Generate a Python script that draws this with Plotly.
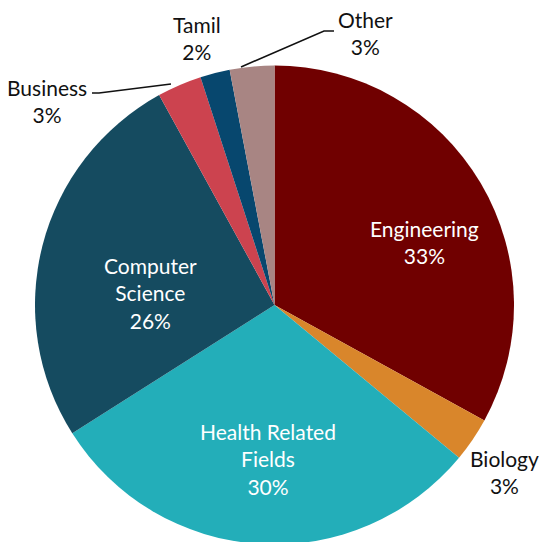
import plotly.graph_objects as go

W, H = 548, 542
OFF = 8  # page body margin offset compensation

categories = ["Engineering", "Biology", "Health Related Fields", "Computer Science",
              "Business", "Tamil", "Other"]
values = [33, 3, 30, 26, 3, 2, 3]
colors = ["#700000", "#D9862B", "#23AEB9", "#154B60", "#CC434F", "#07476E", "#A88583"]
label_lines = ["Engineering", "Biology", "Health Related<br>Fields", "Computer<br>Science",
               "Business", "Tamil", "Other"]


def X(px):
    return (px - OFF) / W


def Y(py):
    return 1 - (py - OFF) / H


fig = go.Figure(go.Pie(
    labels=categories,
    values=values,
    sort=False,
    direction="clockwise",
    rotation=0,
    marker=dict(colors=colors, line=dict(width=0)),
    textinfo="none",
    hoverinfo="label+percent",
    domain=dict(x=[X(35), X(514)], y=[Y(545), Y(65)]),
    showlegend=False,
))

total = sum(values)
label_pos = [(424, 242), (504, 472), (268, 459), (150, 293), (47, 101), (197, 38), (365, 33)]
inside = [True, False, True, True, False, False, False]

annotations = []
for name, v, (px, py), ins in zip(label_lines, values, label_pos, inside):
    pct = round(100 * v / total)
    annotations.append(dict(
        x=X(px), y=Y(py), xref="paper", yref="paper",
        text=f"{name}<br>{pct}%", showarrow=False,
        xanchor="center", yanchor="middle", align="center",
        font=dict(family="Lato, Calibri, sans-serif", size=21,
                  color="white" if ins else "#111111"),
    ))


def P(px, py):
    return f"{X(px):.5f},{Y(py):.5f}"


shapes = [
    dict(type="path", xref="paper", yref="paper",
         path=f"M {P(92, 93)} L {P(99, 93)} L {P(171, 84)}",
         line=dict(color="#111111", width=1.6)),
    dict(type="path", xref="paper", yref="paper",
         path=f"M {P(334, 31)} L {P(324, 31)} L {P(241, 67)}",
         line=dict(color="#111111", width=1.6)),
]

fig.update_layout(
    width=W, height=H,
    margin=dict(l=0, r=0, t=0, b=0),
    paper_bgcolor="white",
    plot_bgcolor="white",
    annotations=annotations,
    shapes=shapes,
)

fig.write_html("out.html")
